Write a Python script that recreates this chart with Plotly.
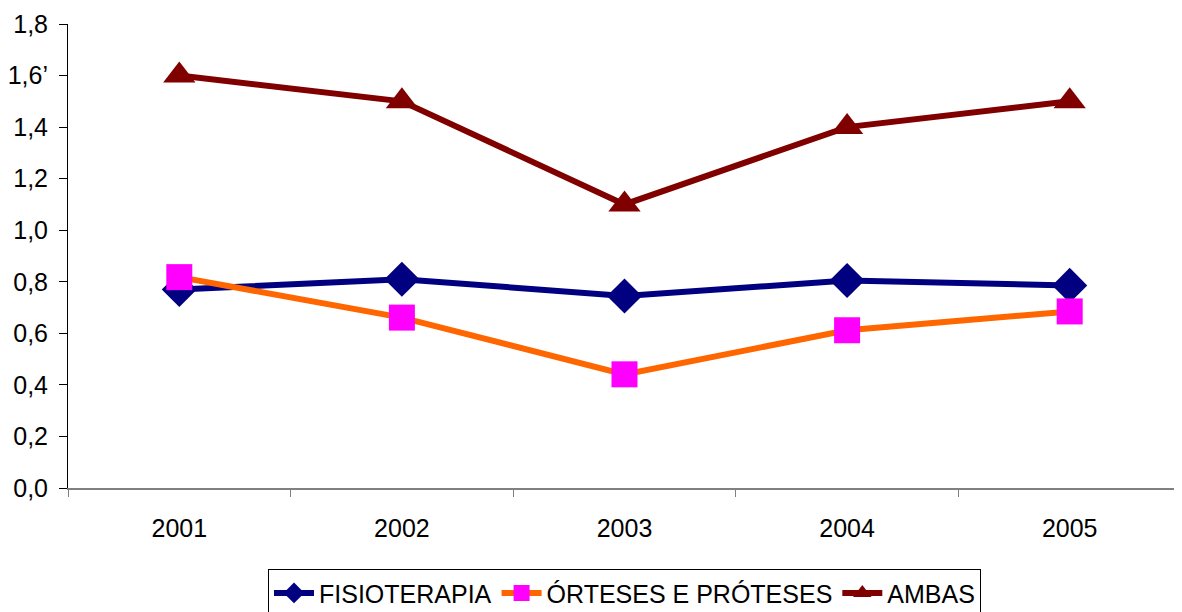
import plotly.graph_objects as go

years = ["2001", "2002", "2003", "2004", "2005"]
fisioterapia = [0.77, 0.81, 0.745, 0.805, 0.786]
orteses = [0.818, 0.661, 0.441, 0.612, 0.685]
ambas = [1.6, 1.5, 1.1, 1.4, 1.5]
y_ticks = [0, 0.2, 0.4, 0.6, 0.8, 1.0, 1.2, 1.4, 1.6, 1.8]
y_labels = ["0,0", "0,2", "0,4", "0,6", "0,8", "1,0", "1,2", "1,4", "1,6\u2019", "1,8"]

FONT = "Liberation Sans, Arial, sans-serif"

fig = go.Figure()
fig.add_trace(go.Scatter(
    x=years, y=fisioterapia, name="FISIOTERAPIA", mode="lines+markers",
    line=dict(color="#000080", width=6),
    marker=dict(symbol="diamond", size=27, color="#000080"),
))
fig.add_trace(go.Scatter(
    x=years, y=orteses, name="ÓRTESES E PRÓTESES", mode="lines+markers",
    line=dict(color="#FF6600", width=6),
    marker=dict(symbol="square", size=26, color="#FF00FF"),
))
fig.add_trace(go.Scatter(
    x=years, y=ambas, name="AMBAS", mode="lines+markers",
    line=dict(color="#800000", width=6),
    marker=dict(symbol="triangle-up", size=28, color="#800000"),
))

# page body has an 8px margin, so the figure is offset by 8px
fig.update_layout(
    width=1174, height=604,
    margin=dict(l=60, r=1, t=16, b=124, autoexpand=False),
    paper_bgcolor="white", plot_bgcolor="white",
    font=dict(family=FONT, size=25, color="black"),
    showlegend=True,
    legend=dict(
        orientation="h", x=0.5, xanchor="center", y=-0.175, yanchor="top",
        bordercolor="black", borderwidth=1, font=dict(size=25),
        itemwidth=40, tracegroupgap=0,
    ),
)
fig.update_xaxes(
    type="category", range=[-0.5, 4.5],
    showline=True, linecolor="#808080", linewidth=2,
    ticks="outside", tickson="boundaries", ticklen=7, tickcolor="#808080",
    showgrid=False, zeroline=False, ticklabelstandoff=17, automargin=False,
    tickfont=dict(size=25),
)
fig.update_yaxes(
    range=[0, 1.8], tickvals=y_ticks, ticktext=y_labels,
    showline=True, linecolor="black", linewidth=1,
    ticks="outside", ticklen=8, tickcolor="black",
    showgrid=False, zeroline=False, ticklabelstandoff=6, automargin=False,
    tickfont=dict(size=25),
)

fig.write_html("out.html")
